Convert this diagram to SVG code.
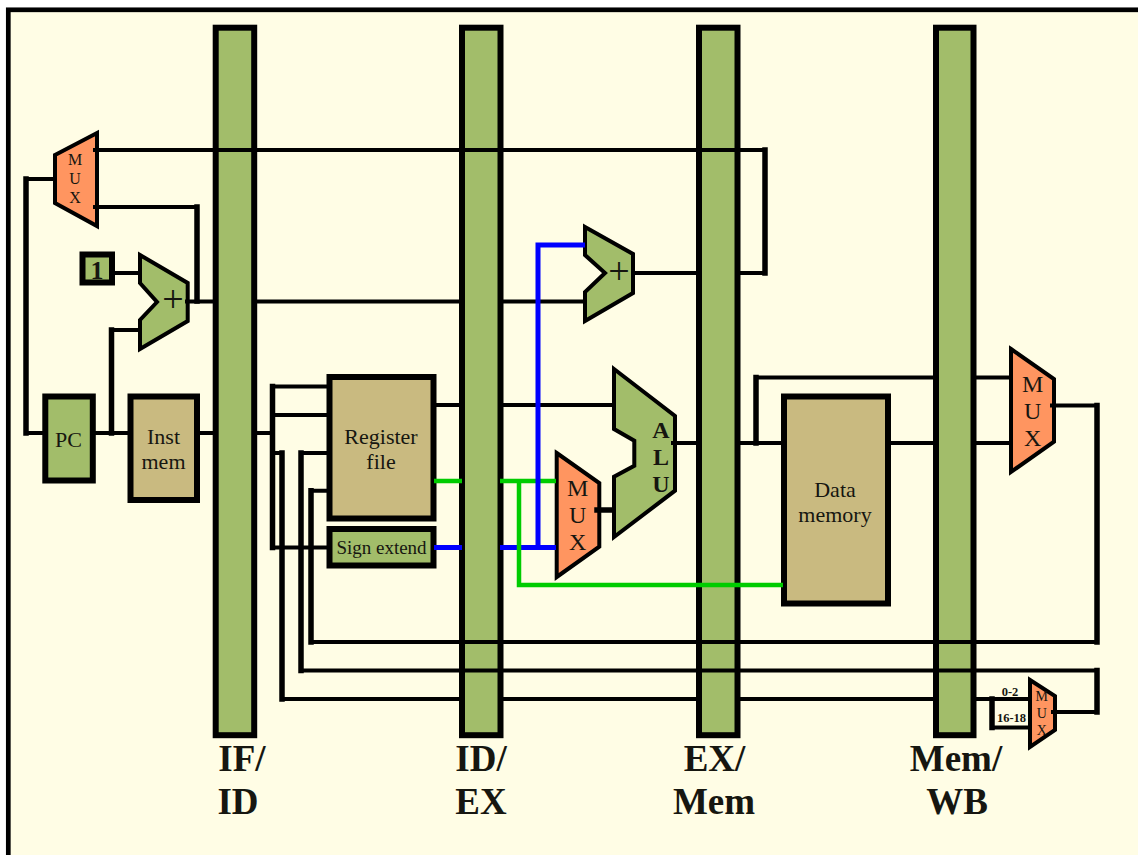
<svg xmlns="http://www.w3.org/2000/svg" width="1138" height="855" viewBox="0 0 1138 855">
<style>
text{font-family:"Liberation Serif","Times New Roman",serif;fill:#161610;text-anchor:middle}
.bar{fill:#a2bd6a;stroke:#000;stroke-width:6}
.box{stroke:#000;stroke-width:6}
.green{fill:#a2bd6a}
.tan{fill:#c9ba80}
.poly{stroke:#000;stroke-width:4;stroke-linejoin:miter}
.mux{fill:#ff9560}
.t22{font-size:22px}
.t19{font-size:19px}
.m24{font-size:24px}
.lab{font-size:37px;font-weight:bold}
.tiny{font-size:12.5px;font-weight:bold}
.h,.v{fill:none;stroke:#000;stroke-linecap:square}
.h{stroke-width:4}
.v{stroke-width:5.5}
.gw{fill:none;stroke:#00cc00;stroke-width:4.5}
.bw{fill:none;stroke:#0000ff;stroke-width:5}
</style>
<rect x="0" y="0" width="1138" height="855" fill="#ffffff"/>
<rect x="8.3" y="9.8" width="1140" height="860" fill="#fffde5" stroke="#000" stroke-width="4.7"/>

<g id="latch-if-id"><rect class="bar" x="215.7" y="27.7" width="38.5" height="707.5"/><text class="lab" x="242" y="770.5">IF/</text><text class="lab" x="238" y="814">ID</text></g>
<g id="latch-id-ex"><rect class="bar" x="462" y="27.7" width="38.5" height="707.5"/><text class="lab" x="481" y="770.5">ID/</text><text class="lab" x="481" y="814">EX</text></g>
<g id="latch-ex-mem"><rect class="bar" x="699" y="27.7" width="38.5" height="707.5"/><text class="lab" x="714.5" y="770.5">EX/</text><text class="lab" x="714" y="814">Mem</text></g>
<g id="latch-mem-wb"><rect class="bar" x="936" y="27.7" width="37.5" height="707.5"/><text class="lab" x="956" y="770.5">Mem/</text><text class="lab" x="957" y="814">WB</text></g>

<g id="mux-pc"><polygon class="poly mux" points="55,155 97,133 97,226 55,203"/><text font-size="16" x="75" y="165">M</text><text font-size="16" x="75" y="184">U</text><text font-size="16" x="75" y="203">X</text></g>
<g id="const-1"><rect class="box green" x="82.5" y="254.5" width="29.5" height="28"/><text font-size="26" font-weight="bold" x="97" y="279">1</text></g>
<g id="adder-pc"><polygon class="poly green" points="140,255 187.7,283 187.7,321 140,349 140,320 157,302 140,283"/><text font-size="38" x="173" y="312">+</text></g>
<g id="adder-branch"><polygon class="poly green" points="585,227 633,254 633,293 585,321 585,292 605,273 585,255"/><text font-size="38" x="619" y="284">+</text></g>
<g id="pc"><rect class="box green" x="45.3" y="396.5" width="47.5" height="84"/><text class="t22" x="68.5" y="447">PC</text></g>
<g id="inst-mem"><rect class="box tan" x="130.5" y="396.5" width="66.5" height="103.5"/><text class="t22" x="163.5" y="444">Inst</text><text class="t22" x="163.5" y="469">mem</text></g>
<g id="register-file"><rect class="box tan" x="329.5" y="377" width="104" height="141.5"/><text class="t22" x="381" y="444">Register</text><text class="t22" x="381" y="469">file</text></g>
<g id="sign-extend"><rect class="box green" x="329.5" y="529" width="104" height="36.5"/><text class="t19" x="381.5" y="554">Sign extend</text></g>
<g id="mux-alu"><polygon class="poly mux" points="556.7,453 599.3,483 599.3,546.7 556.7,577"/><text class="m24" x="577.7" y="495.7">M</text><text class="m24" x="577.7" y="522.7">U</text><text class="m24" x="577.7" y="550">X</text></g>
<g id="alu"><polygon class="poly green" points="614,369 675,416 675,490.7 614,537 614,476.7 634.3,465.7 634.3,440.7 614,429"/><text font-size="24" font-weight="bold" x="661" y="437.7">A</text><text font-size="24" font-weight="bold" x="661" y="465">L</text><text font-size="24" font-weight="bold" x="661" y="491.7">U</text></g>
<g id="data-memory"><rect class="box tan" x="784" y="396.5" width="104" height="207"/><text class="t22" x="835" y="496.7">Data</text><text class="t22" x="835" y="521.7">memory</text></g>
<g id="mux-wb"><polygon class="poly mux" points="1011,349 1054,379 1054,441.7 1011,472"/><text class="m24" x="1032.7" y="391.7">M</text><text class="m24" x="1032.7" y="419">U</text><text class="m24" x="1032.7" y="446">X</text></g>
<g id="mux-rd"><polygon class="poly mux" points="1030,680 1055,696 1055,730 1030,747"/><text font-size="14" x="1041.7" y="701">M</text><text font-size="14" x="1041.7" y="718">U</text><text font-size="14" x="1041.7" y="735">X</text></g>

<g id="connectors">
<path class="h" d="M95 150H765M95 207H197M26 179H53M26 433H43M96 433H128M111.5 330H138M114 273H138M187 301.5H211M259 301.5H457M505 301.5H583M200 433H211M259 433H272.5"/>
<path class="v" d="M765 150V273M197 207V301M26 179V433M111.5 330V433"/>
<path class="h" d="M272.5 386.5H327M272.5 415H327M272.5 453H282M301 453H327M311 490.7H327M272.5 547.5H327"/>
<path class="v" d="M272.5 386.5V547.5M282 453V699M301 453V670.5M311 490.7V642"/>
<path class="h" d="M282 699H457M505 699H694M742 699H931M978 699H1028M311 642H1097M301 670.5H1097M992 727.5H1028M1053 712H1097"/>
<path class="v" d="M992 699V727.5M1097 670.5V712M1097 405.5V642"/>
<path class="h" d="M436 405H457M505 405H612M633 273H694M742 273H765M673 443H694M742 443H781M756 377.5H931M978 377.5H1009M891 443H931M978 443H1009M1052 405.5H1097"/>
<path class="v" d="M756 377.5V443M597 510H612"/>
<path class="bw" d="M434 547.5H462M500 547.5H556"/>
<path class="gw" d="M434 481H462M500 481H556M519 481V585H783"/>
<path class="bw" d="M538 547.5V245H585"/>
</g>
<text class="tiny" x="1010" y="695.5">0-2</text>
<text class="tiny" x="1011.5" y="722">16-18</text>
</svg>
